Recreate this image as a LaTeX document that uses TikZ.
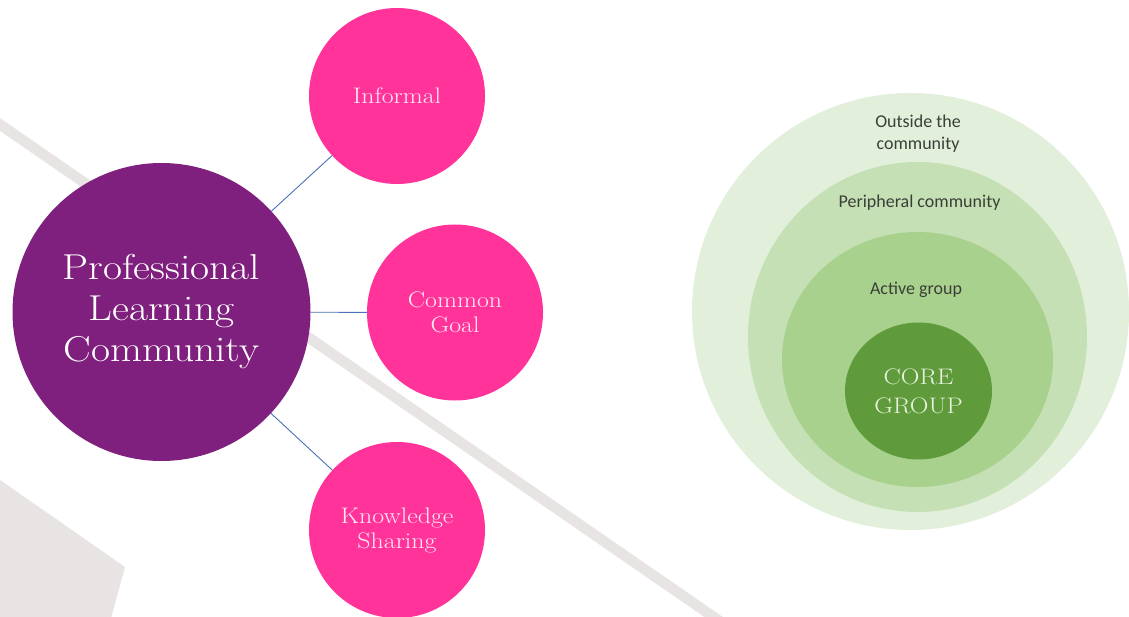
\documentclass[tikz,border=0pt]{standalone}
\usepackage{fontspec}
\newfontfamily\labelfont{Carlito}
\newfontfamily\slabfont[FakeStretch=1.15]{Latin Modern Roman}
\usetikzlibrary{shapes.geometric}
\definecolor{plcpurple}{HTML}{80207E}
\definecolor{hotpink}{HTML}{FF3399}
\definecolor{pinktext}{HTML}{FFEAF4}
\definecolor{linkblue}{HTML}{4A72B8}
\definecolor{stripegrey}{HTML}{E8E4E4}
\definecolor{ringA}{HTML}{E2EFDA}
\definecolor{ringB}{HTML}{C5E0B4}
\definecolor{ringC}{HTML}{A9D18E}
\definecolor{ringD}{HTML}{5F9B3B}
\definecolor{coretext}{HTML}{E8F2DE}
\definecolor{labeldark}{HTML}{3A3F38}
\begin{document}
\begin{tikzpicture}[x=1pt,y=-1pt,
  hub/.style={circle, fill=plcpurple, minimum size=298pt, inner sep=0pt,
    align=center, text=white, font=\slabfont\fontsize{36}{41}\selectfont},
  spoke/.style={circle, fill=hotpink, minimum size=176pt, inner sep=0pt,
    align=center, text=pinktext, font=\slabfont\fontsize{22.5}{25}\selectfont},
  link/.style={draw=linkblue, line width=0.9pt},
  ring/.style={ellipse, inner sep=0pt},
  ringlabel/.style={font=\labelfont\fontsize{18}{22}\selectfont,
    text=labeldark, align=center, inner sep=0pt},
]
\useasboundingbox (0,0) rectangle (1129,617);
\fill[white] (0,0) rectangle (1129,617);
\begin{scope}
  \clip (0,0) rectangle (1129,617);
  % decorative background band and corner patch
  \draw[stripegrey, line width=10.5pt] (-10,117.6) -- (730,628.3);
  \fill[stripegrey] (-5,476.5) -- (125,567) -- (110,622) -- (-5,622) -- cycle;

  % hub and spokes
  \node[hub] (plc) at (161.5,312) {Professional\\Learning\\Community};
  \node[spoke] (informal) at (397,96) {Informal};
  \node[spoke] (goal) at (455,312.5) {Common\\Goal};
  \node[spoke] (sharing) at (397,530) {Knowledge\\Sharing};
  \draw[link] (plc) -- (informal);
  \draw[link] (plc) -- (goal);
  \draw[link] (plc) -- (sharing);

  % nested community rings
  \node[ring, fill=ringA, minimum width=437pt, minimum height=437pt] (outside) at (910.5,311.5) {};
  \node[ring, fill=ringB, minimum width=339pt, minimum height=350pt] (peripheral) at (917.5,337) {};
  \node[ring, fill=ringC, minimum width=271pt, minimum height=255pt] (active) at (917.5,359.5) {};
  \node[ring, fill=ringD, minimum width=147pt, minimum height=137pt,
    align=center, text=coretext, font=\slabfont\fontsize{22.5}{29}\selectfont] (core) at (918.5,391) {CORE\\GROUP};

  \node[ringlabel] (outsidelbl) at (918,134) {Outside the\\community};
  \node[ringlabel] (peripherallbl) at (919.5,203) {Peripheral community};
  \node[ringlabel] (activelbl) at (916,290) {Active group};
\end{scope}
\end{tikzpicture}
\end{document}
